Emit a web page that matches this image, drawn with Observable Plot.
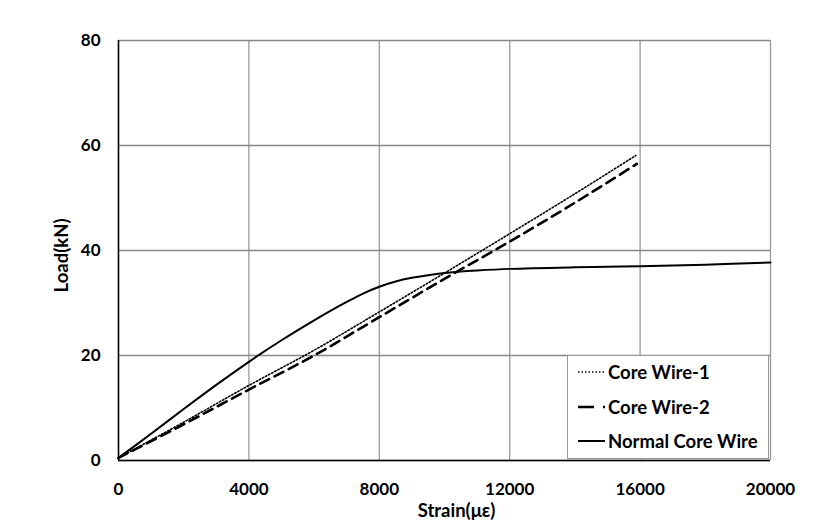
<!DOCTYPE html>
<html>
<head>
<meta charset="utf-8">
<script src="https://cdn.jsdelivr.net/npm/d3@7"></script>
<script src="https://cdn.jsdelivr.net/npm/@observablehq/plot@0.6"></script>
<style>
  html, body { margin: 0; padding: 0; background: #fff; }
  #wrap { position: relative; width: 813px; height: 522px; font-family: Lato, "Open Sans", sans-serif; }
  #legend { position: absolute; left: 567px; top: 355px; width: 202px; height: 104px; background: #fff;
            border: 1.5px solid #999; box-sizing: border-box; font-weight: bold; font-size: 18.5px; color: #000; }
  .item { position: absolute; left: 10px; display: flex; align-items: center; height: 22px; }
  .item svg { margin-right: 3px; }
</style>
</head>
<body>
<div id="wrap"></div>
<script>
const xTicks = [0, 4000, 8000, 12000, 16000, 20000];
const yTicks = [0, 20, 40, 60, 80];

const seriesNames = ["Core Wire-1", "Core Wire-2", "Normal Core Wire"];

const wire1Strain = [0, 2000, 4000, 6000, 8000, 10000, 12000, 14000, 15870];
const wire1Load   = [0.5, 7.3, 14.3, 21.0, 28.3, 35.7, 43.2, 50.8, 58.1];

const wire2Strain = [0, 2000, 4000, 6000, 8000, 10000, 12000, 14000, 15900];
const wire2Load   = [0.5, 6.9, 13.5, 20.0, 27.3, 34.6, 41.7, 49.1, 56.5];

const normalStrain = [0, 1000, 2000, 3000, 4000, 5000, 6000, 6500, 7000, 7500, 8000, 8500, 9000, 9500, 10000, 10500, 11000, 12000, 14000, 16000, 18000, 20000];
const normalLoad   = [0.5, 5.1, 9.8, 14.4, 18.8, 22.9, 26.7, 28.5, 30.2, 31.8, 33.1, 34.1, 34.8, 35.3, 35.7, 36.0, 36.2, 36.5, 36.8, 37.0, 37.3, 37.7];

const toRows = (xs, ys) => xs.map((x, i) => ({x, y: ys[i]}));
const w1 = toRows(wire1Strain, wire1Load);
const w2 = toRows(wire2Strain, wire2Load);
const nw = toRows(normalStrain, normalLoad);

const chart = Plot.plot({
  width: 813,
  height: 522,
  marginLeft: 118,
  marginRight: 43,
  marginTop: 40,
  marginBottom: 62,
  style: { fontFamily: "Lato, 'Open Sans', sans-serif", fontSize: "17px", fontWeight: "bold", color: "#000", background: "#fff" },
  x: { domain: [0, 20000], ticks: xTicks, tickSize: 0, tickPadding: 22, tickFormat: d => String(d), label: null },
  y: { domain: [0, 80], ticks: yTicks, tickSize: 0, tickPadding: 18, tickFormat: d => String(d), label: null },
  marks: [
    Plot.gridX(xTicks, { stroke: "#999", strokeOpacity: 1, strokeWidth: 1.3 }),
    Plot.gridY(yTicks, { stroke: "#888", strokeOpacity: 1, strokeWidth: 1.3 }),
    Plot.line(nw, { x: "x", y: "y", stroke: "#000", strokeWidth: 2, curve: "catmull-rom" }),
    Plot.line(w1, { x: "x", y: "y", stroke: "#000", strokeWidth: 1.6, strokeDasharray: "1.5,2", curve: "catmull-rom" }),
    Plot.line(w2, { x: "x", y: "y", stroke: "#000", strokeWidth: 2.6, strokeDasharray: "10,6", curve: "catmull-rom" }),
    Plot.ruleX([0], { stroke: "#000", strokeWidth: 1.5 }),
    Plot.ruleY([0], { stroke: "#000", strokeWidth: 1.5 }),
    Plot.axisX({ ticks: xTicks, tickSize: 0, tickPadding: 22, tickFormat: d => String(d), label: null, fontSize: 17, fontWeight: "bold" }),
    Plot.axisY({ ticks: yTicks, tickSize: 0, tickPadding: 18, tickFormat: d => String(d), label: null, fontSize: 17, fontWeight: "bold" }),
    Plot.text(["Strain(με)"], { frameAnchor: "bottom", textAnchor: "middle", dx: 12, dy: 56, fontSize: 18.5, fontWeight: "bold" }),
    Plot.text(["Load(kN)"], { frameAnchor: "left", textAnchor: "middle", dx: -56, dy: 5, rotate: -90, fontSize: 18.5, fontWeight: "bold" })
  ]
});

const wrap = document.getElementById("wrap");
wrap.appendChild(chart);

const legend = document.createElement("div");
legend.id = "legend";
const dashes = ["1.5,2", "16,9", null];
const widths = [1.6, 2.6, 2];
seriesNames.forEach((name, i) => {
  const item = document.createElement("div");
  item.className = "item";
  item.style.top = (5 + i * 34.5) + "px";
  item.innerHTML = `<svg width="27" height="6"><line x1="0" y1="3" x2="27" y2="3" stroke="#000" stroke-width="${widths[i]}" ${dashes[i] ? `stroke-dasharray="${dashes[i]}"` : ""}/></svg><span>${name}</span>`;
  legend.appendChild(item);
});
wrap.appendChild(legend);
</script>
</body>
</html>
